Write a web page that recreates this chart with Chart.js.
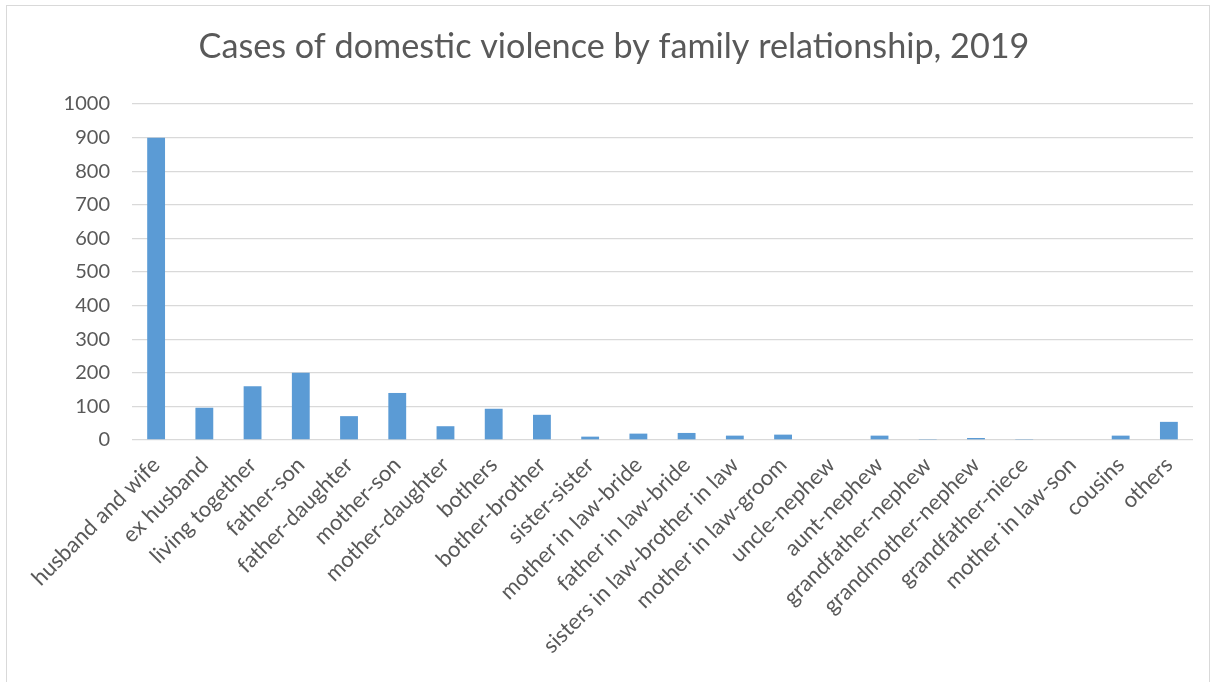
<!DOCTYPE html>
<html>
<head>
<meta charset="utf-8">
<script src="https://cdn.jsdelivr.net/npm/chart.js@4/dist/chart.umd.min.js"></script>
<style>
  html, body { margin: 0; padding: 0; background: #ffffff; }
  #wrap { position: relative; width: 1217px; height: 682px; overflow: hidden; }
  #frame { position: absolute; left: 6px; top: 5px; width: 1204px; height: 700px; border: 1px solid #d9d9d9; box-sizing: border-box; }
  canvas { position: absolute; left: 0; top: 0; }
</style>
</head>
<body>
<div id="wrap">
  <div id="frame"></div>
  <canvas id="chart" width="1217" height="682"></canvas>
</div>
<script>
// Relationship categories along the x axis
const categories = [
  "husband and wife", "ex husband", "living together", "father-son",
  "father-daughter", "mother-son", "mother-daughter", "bothers",
  "bother-brother", "sister-sister", "mother in law-bride", "father in law-bride",
  "sisters in law-brother in law", "mother in law-groom", "uncle-nephew", "aunt-nephew",
  "grandfather-nephew", "grandmother-nephew", "grandfather-niece", "mother in law-son",
  "cousins", "others"
];

// Number of cases per relationship
const cases = [
  900, 96, 160, 200,
  71, 140, 41, 93,
  75, 10, 19, 21,
  13, 16, 2, 13,
  1, 6, 1, 0,
  13, 54
];

// Value axis ticks
const yMin = 0;
const yMax = 1000;
const yStep = 100;

const titleText = "Cases of domestic violence by family relationship, 2019";
const textColor = "#595959";
const fontFamily = "Lato, 'Open Sans', sans-serif";

new Chart(document.getElementById("chart"), {
  type: "bar",
  data: {
    labels: categories,
    datasets: [{
      label: "Cases",
      data: cases,
      backgroundColor: "#5b9bd5",
      borderWidth: 0,
      categoryPercentage: 1.0,
      barPercentage: 0.37
    }]
  },
  options: {
    responsive: false,
    animation: false,
    layout: { padding: { left: 35, right: 24, top: 0, bottom: 0 } },
    plugins: {
      legend: { display: false },
      tooltip: { enabled: false },
      title: {
        display: true,
        text: titleText,
        color: textColor,
        font: { family: fontFamily, size: 34.2, weight: "normal" },
        padding: { top: 26, bottom: 37 }
      }
    },
    scales: {
      x: {
        grid: { display: false },
        border: { display: false },
        ticks: {
          color: textColor,
          font: { family: fontFamily, size: 22 },
          minRotation: 45,
          maxRotation: 45,
          autoSkip: false,
          padding: 4
        },
        afterFit(scale) { scale.height = 242; }
      },
      y: {
        min: yMin,
        max: yMax,
        grid: { color: "#d9d9d9", lineWidth: 1.3, drawTicks: false },
        border: { display: false },
        ticks: {
          stepSize: yStep,
          color: textColor,
          font: { family: fontFamily, size: 20 },
          padding: 22,
          callback: (value) => String(value)
        },
        afterFit(scale) { scale.width = 97; }
      }
    }
  }
});
</script>
</body>
</html>
